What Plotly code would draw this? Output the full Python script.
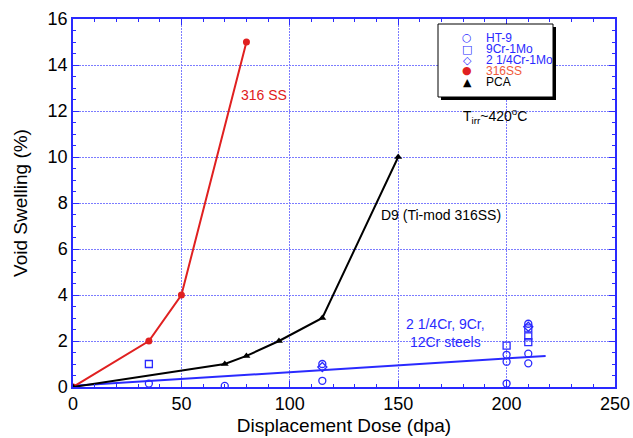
import plotly.graph_objects as go

# Swelling data: displacement dose (dpa) vs void swelling (%)
ss316_dose = [0, 35, 50, 80]
ss316_swell = [0, 2, 4, 15]

pca_dose = [0, 70, 80, 95, 115, 150]
pca_swell = [0, 1.0, 1.35, 2.0, 3.0, 10.0]

ht9_dose = [35, 70, 115, 115, 200, 200, 200, 210, 210, 210]
ht9_swell = [0.15, 0.05, 1.0, 0.27, 1.4, 1.1, 0.15, 2.75, 1.45, 1.03]

cr9_dose = [35, 200, 210, 210, 210]
cr9_swell = [1.0, 1.8, 2.55, 2.2, 1.95]

cr2_dose = [115, 210]
cr2_swell = [0.87, 2.62]

# trend line through the ferritic/martensitic steels
fit_dose = [0, 218]
fit_swell = [0.05, 1.35]

legend_symbols = ["○", "□", "◇", "●", "▲"]
legend_labels = ["HT-9", "9Cr-1Mo", "2 1/4Cr-1Mo", "316SS", "PCA"]

BLUE = "#2a2aff"
RED = "#e02020"
LEG_RED = "#f05a3c"
GRID = "#7c7cff"
FONT = "Liberation Sans, Arial, sans-serif"

W, H = 633, 438
ML, MR, MT, MB = 73, 18, 19, 51
PW, PH = W - ML - MR, H - MT - MB


def px_x(px):
    return (px - ML) / PW


def px_y(py):
    return (H - MB - py) / PH


fig = go.Figure()

fig.add_trace(go.Scatter(x=fit_dose, y=fit_swell, mode="lines",
                         line=dict(color=BLUE, width=2)))
fig.add_trace(go.Scatter(x=ss316_dose, y=ss316_swell, mode="lines+markers",
                         line=dict(color=RED, width=2),
                         marker=dict(symbol="circle", size=7, color=RED)))
fig.add_trace(go.Scatter(x=pca_dose, y=pca_swell, mode="lines+markers",
                         line=dict(color="black", width=2),
                         marker=dict(symbol="triangle-up", size=7, color="black")))
fig.add_trace(go.Scatter(x=ht9_dose, y=ht9_swell, mode="markers",
                         marker=dict(symbol="circle-open", size=7,
                                     color=BLUE, line=dict(width=1.3))))
fig.add_trace(go.Scatter(x=cr9_dose, y=cr9_swell, mode="markers",
                         marker=dict(symbol="square-open", size=7,
                                     color=BLUE, line=dict(width=1.3))))
fig.add_trace(go.Scatter(x=cr2_dose, y=cr2_swell, mode="markers",
                         marker=dict(symbol="diamond-open", size=7,
                                     color=BLUE, line=dict(width=1.3))))

axis_common = dict(
    showline=True, linecolor=BLUE, linewidth=1.5, mirror="allticks",
    ticks="inside", ticklen=6, tickcolor=BLUE, tickwidth=1,
    showgrid=True, gridcolor=GRID, griddash="2px,1px", gridwidth=1,
    zeroline=False,
    tickfont=dict(family=FONT, size=18, color="black"),
)

fig.update_xaxes(range=[0, 250], dtick=50,
                 minor=dict(dtick=10, ticks="inside", ticklen=3,
                            tickcolor=BLUE, showgrid=False),
                 title=dict(text="Displacement Dose (dpa)", standoff=5,
                            font=dict(family=FONT, size=19, color="black")),
                 automargin=False,
                 **axis_common)
fig.update_yaxes(range=[0, 16], dtick=2,
                 minor=dict(dtick=0.5, ticks="inside", ticklen=3,
                            tickcolor=BLUE, showgrid=False),
                 title=dict(text="Void Swelling (%)", standoff=15,
                            font=dict(family=FONT, size=19, color="black")),
                 automargin=False,
                 **axis_common)

annotations = [
    dict(x=88, y=12.7, text="316 SS", font=dict(color=RED, size=14)),
    dict(x=179, y=11.8, text="T<sub>irr</sub>~420<sup>o</sup>C",
         xanchor="left", font=dict(color="black", size=14)),
    dict(x=141, y=7.5, text="D9 (Ti-mod 316SS)", xanchor="left",
         font=dict(color="black", size=14)),
    dict(x=172, y=2.35, text="2 1/4Cr, 9Cr,<br>12Cr steels",
         font=dict(color=BLUE, size=14)),
]
for a in annotations:
    a.update(showarrow=False, xref="x", yref="y", yanchor="middle")
    a["font"]["family"] = FONT

# legend box with drop shadow
box = (438, 24, 553, 97)
shapes = [
    dict(type="rect", xref="paper", yref="paper",
         x0=px_x(box[0] + 3), x1=px_x(box[2] + 3),
         y0=px_y(box[3] + 3), y1=px_y(box[1] + 3),
         fillcolor="black", line=dict(width=0), layer="above"),
    dict(type="rect", xref="paper", yref="paper",
         x0=px_x(box[0]), x1=px_x(box[2]),
         y0=px_y(box[3]), y1=px_y(box[1]),
         fillcolor="white", line=dict(color="black", width=1), layer="above"),
]
leg_colors = [BLUE, BLUE, BLUE, LEG_RED, "black"]
sym_colors = [BLUE, BLUE, BLUE, RED, "black"]
row_y = [38, 49, 60, 71, 82]
for sym, lab, c, sc, ry in zip(legend_symbols, legend_labels, leg_colors,
                               sym_colors, row_y):
    annotations.append(dict(x=px_x(467), y=px_y(ry), xref="paper", yref="paper",
                            xanchor="center", yanchor="middle",
                            text=sym, showarrow=False,
                            font=dict(family="DejaVu Sans", size=11, color=sc)))
    annotations.append(dict(x=px_x(484), y=px_y(ry), xref="paper", yref="paper",
                            xanchor="left", yanchor="middle",
                            text=lab, showarrow=False,
                            font=dict(family=FONT, size=12, color=c)))

fig.update_layout(
    width=W, height=H,
    margin=dict(l=ML, r=MR, t=MT, b=MB),
    paper_bgcolor="white", plot_bgcolor="white",
    showlegend=False,
    annotations=annotations,
    shapes=shapes,
)

fig.write_html("out.html")
